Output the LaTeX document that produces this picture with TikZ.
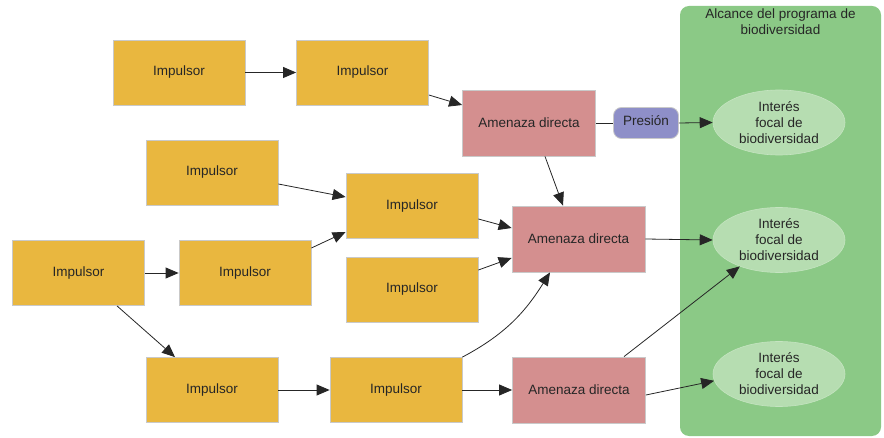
\documentclass[tikz,border=0pt]{standalone}
\usepackage{fontspec}
\setmainfont{Liberation Sans}
\usetikzlibrary{arrows.meta,shapes.geometric}
\definecolor{impc}{HTML}{E9B73F}
\definecolor{amenc}{HTML}{D48F8F}
\definecolor{presc}{HTML}{8E8FC8}
\definecolor{scopec}{HTML}{8BC986}
\definecolor{ellc}{HTML}{B6DDB1}
\definecolor{edgec}{HTML}{C9C9C9}
\begin{document}
\begin{tikzpicture}[x=1pt,y=-1pt,
  every node/.style={font=\fontsize{13.5}{16}\selectfont, text=black!85},
  impbox/.style={rectangle, fill=impc, draw=edgec, line width=0.8pt, minimum width=132pt, minimum height=65pt, inner sep=0pt},
  amenbox/.style={rectangle, fill=amenc, draw=edgec, line width=0.8pt, minimum width=133pt, minimum height=66pt, inner sep=0pt},
  presbox/.style={rectangle, rounded corners=8pt, fill=presc, draw=edgec, line width=0.8pt, minimum width=65pt, minimum height=31pt, inner sep=0pt},
  focal/.style={ellipse, fill=ellc, draw=ellc!80!white, line width=0.6pt, minimum width=132pt, minimum height=65pt, inner sep=0pt, align=center, font=\fontsize{13.5}{16}\selectfont},
  conn/.style={line width=0.8pt, draw=black!85, -{Triangle[length=13pt,width=11pt]}},
  plain/.style={line width=0.8pt, draw=black!85}
]
\useasboundingbox (0,0) rectangle (884,438);
% scope area
\fill[scopec, rounded corners=9pt] (680,6) rectangle (881,436);
\node[align=center, font=\fontsize{13.5}{16}\selectfont] (title) at (780.5,22) {Alcance del programa de\\biodiversidad};

\node[impbox] (I1) at (179,72.5) {Impulsor};
\node[impbox] (I2) at (362.5,72.5) {Impulsor};
\node[amenbox] (AD1) at (529,123) {Amenaza directa};
\node[presbox] (P) at (646,123) {\raisebox{5pt}{Presión}};
\node[impbox] (I3) at (212,172.5) {Impulsor};
\node[impbox] (I4) at (412,206) {Impulsor};
\node[amenbox] (AD2) at (578.5,239) {Amenaza directa};
\node[impbox] (I5) at (78.5,273) {Impulsor};
\node[impbox] (I6) at (245,273) {Impulsor};
\node[impbox] (I7) at (412,289.5) {Impulsor};
\node[impbox] (I8) at (212,390) {Impulsor};
\node[impbox] (I9) at (396,390) {Impulsor};
\node[amenbox] (AD3) at (579,390) {Amenaza directa};
\node[focal] (E1) at (779,122.5) {Interés\\focal de\\biodiversidad};
\node[focal] (E2) at (779,240) {Interés\\focal de\\biodiversidad};
\node[focal] (E3) at (779,374) {Interés\\focal de\\biodiversidad};

\draw[conn] (I1.east) -- (I2.west);
\draw[conn] ([yshift=-22.5pt]I2.east) -- ([yshift=18pt]AD1.west);
\draw[plain] (AD1.east) -- (P.west);
\draw[conn] (P.east) -- (E1.west);
\draw[conn] ([xshift=16pt]AD1.south) -- ([xshift=-15.5pt]AD2.north);
\draw[conn] ([yshift=-11.5pt]I3.east) -- ([yshift=9pt]I4.west);
\draw[conn] ([yshift=-13pt]I4.east) -- ([yshift=11pt]AD2.west);
\draw[conn] ([yshift=25pt]I6.east) -- ([yshift=-26pt]I4.west);
\draw[conn] (I5.east) -- (I6.west);
\draw[conn] ([yshift=19.5pt]I7.east) -- ([yshift=-19pt]AD2.west);
\draw[conn] (AD2.east) -- (E2.west);
\draw[conn] ([xshift=38.5pt]I5.south) -- ([xshift=-37pt]I8.north);
\draw[conn] (I8.east) -- (I9.west);
\draw[conn] (I9.north east) to[out=28,in=-122] ([xshift=-28.5pt]AD2.south);
\draw[conn] (I9.east) -- (AD3.west);
\draw[conn] ([xshift=45pt]AD3.north) -- (E2.214);
\draw[conn] ([yshift=-5pt]AD3.east) -- (E3.186);
\end{tikzpicture}
\end{document}
